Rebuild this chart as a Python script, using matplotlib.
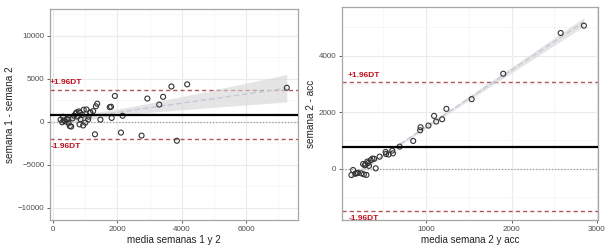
import numpy as np
import matplotlib.pyplot as plt
from matplotlib.ticker import MultipleLocator

plt.rcParams['font.family'] = ['Liberation Sans', 'DejaVu Sans']

# --- data (Bland-Altman style plots) ---
# left: semana 1 vs semana 2
mean_12 = [230, 280, 311, 330, 380, 420, 466, 480, 518, 560, 600, 650, 700, 730,
           760, 800, 820, 828, 850, 900, 932, 950, 1000, 1036, 1088, 1100, 1150,
           1160, 1243, 1300, 1330, 1370, 1470, 1760, 1800, 1820, 1920, 2110,
           2160, 2750, 2930, 3300, 3420, 3680, 3850, 4170, 7270]
diff_12 = [250, -50, 580, 150, 50, 300, 271, -150, -500, -550, 400, 700, 950, 1100,
           600, 1200, -300, 1046, 300, 800, -426, 1400, -100, 1434, 271, 600, 1100,
           1046, 1240, -1450, 1800, 2100, 250, 1700, 1750, 450, 3000, -1250,
           700, -1600, 2700, 2000, 2900, 4100, -2200, 4350, 3950]
bias_12, upper_12, lower_12 = 814, 3640, -1990

# right: semana 2 vs acc
mean_2a = [124, 144, 170, 185, 200, 241, 261, 270, 280, 290, 300, 310, 320, 330,
           350, 370, 390, 409, 455, 525, 530, 560, 603, 611, 689, 848, 930, 934,
           1027, 1093, 1117, 1187, 1237, 1533, 1903, 2576, 2848]
diff_2a = [-225, -47, -180, -160, -150, -166, 166, -200, 120, 150, -220, 250, 200,
           100, 300, 355, 350, 12, 426, 591, 520, 500, 639, 544, 781, 982, 1360,
           1467, 1526, 1869, 1668, 1751, 2118, 2461, 3360, 4803, 5063]
bias_2a, upper_2a, lower_2a = 779, 3058, -1500

RED = '#c0121f'
GRID = '#ebebeb'


def lm_band(x, y, ax):
    # linear fit with 95% confidence band, like geom_smooth(method = "lm")
    x = np.asarray(x, float)
    y = np.asarray(y, float)
    b, a = np.polyfit(x, y, 1)
    xs = np.linspace(x.min(), x.max(), 100)
    resid = y - (a + b * x)
    n = len(x)
    s = np.sqrt(np.sum(resid ** 2) / (n - 2))
    se = s * np.sqrt(1 / n + (xs - x.mean()) ** 2 / np.sum((x - x.mean()) ** 2))
    ys = a + b * xs
    ax.fill_between(xs, ys - 2.01 * se, ys + 2.01 * se, color='#d4d4d4', alpha=0.6,
                    lw=0, zorder=2)
    ax.plot(xs, ys, color='#c3cbd8', lw=1, ls=(0, (4, 2)), zorder=2.5)


def panel(ax, x, y, bias, up, lo, xlim, ylim, xmaj, ymaj, lab_x, lab_dy, xlabel, ylabel):
    ax.set_xlim(*xlim)
    ax.set_ylim(*ylim)
    ax.xaxis.set_major_locator(MultipleLocator(xmaj))
    ax.xaxis.set_minor_locator(MultipleLocator(xmaj / 2))
    ax.yaxis.set_major_locator(MultipleLocator(ymaj))
    ax.yaxis.set_minor_locator(MultipleLocator(ymaj / 2))
    ax.grid(which='major', color=GRID, lw=0.8, zorder=0)
    ax.grid(which='minor', color='#f4f4f4', lw=0.5, zorder=0)
    ax.set_axisbelow(True)
    for sp in ax.spines.values():
        sp.set_color('#a6a6a6')
        sp.set_linewidth(0.9)
    ax.tick_params(which='major', length=2.5, width=0.6, color='#444444',
                   labelsize=5.8, labelcolor='#4d4d4d', pad=1.5)
    ax.tick_params(which='minor', length=0)

    lm_band(x, y, ax)
    ax.scatter(x, y, s=13, facecolors='none', edgecolors='#333333', linewidths=0.8,
               zorder=3)
    ax.axhline(0, color='#9a9a9a', lw=0.9, ls=(0, (1, 1.5)), zorder=1)
    ax.axhline(bias, color='black', lw=1.6, zorder=4)
    ax.axhline(up, color='#b5545a', lw=1.0, ls=(0, (3, 2.2)), zorder=1)
    ax.axhline(lo, color='#b5545a', lw=1.0, ls=(0, (3, 2.2)), zorder=1)
    ax.text(lab_x, up + lab_dy, '+1.96DT', color=RED, fontsize=6, fontweight='bold',
            ha='center', va='center', zorder=5)
    ax.text(lab_x, lo - lab_dy, '-1.96DT', color=RED, fontsize=6, fontweight='bold',
            ha='center', va='center', zorder=5)
    ax.set_xlabel(xlabel, fontsize=7.1, color='#222222', labelpad=2)
    ax.set_ylabel(ylabel, fontsize=7.2, color='#222222', labelpad=2)


fig = plt.figure(figsize=(6.05, 2.49), dpi=100, facecolor='white')
ax1 = fig.add_axes([0.0826, 0.1165, 0.41, 0.8475])
ax2 = fig.add_axes([0.565, 0.1165, 0.423, 0.8555])

panel(ax1, mean_12, diff_12, bias_12, upper_12, lower_12, (-100, 7620), (-11400, 13100),
      2000, 5000, 400, 900, 'media semanas 1 y 2', 'semana 1 - semana 2')
panel(ax2, mean_2a, diff_2a, bias_2a, upper_2a, lower_2a, (12, 3010), (-1816, 5724),
      1000, 2000, 265, 250, 'media semana 2 y acc', 'semana 2 - acc')

fig.savefig('out.png', dpi=100, facecolor='white')
